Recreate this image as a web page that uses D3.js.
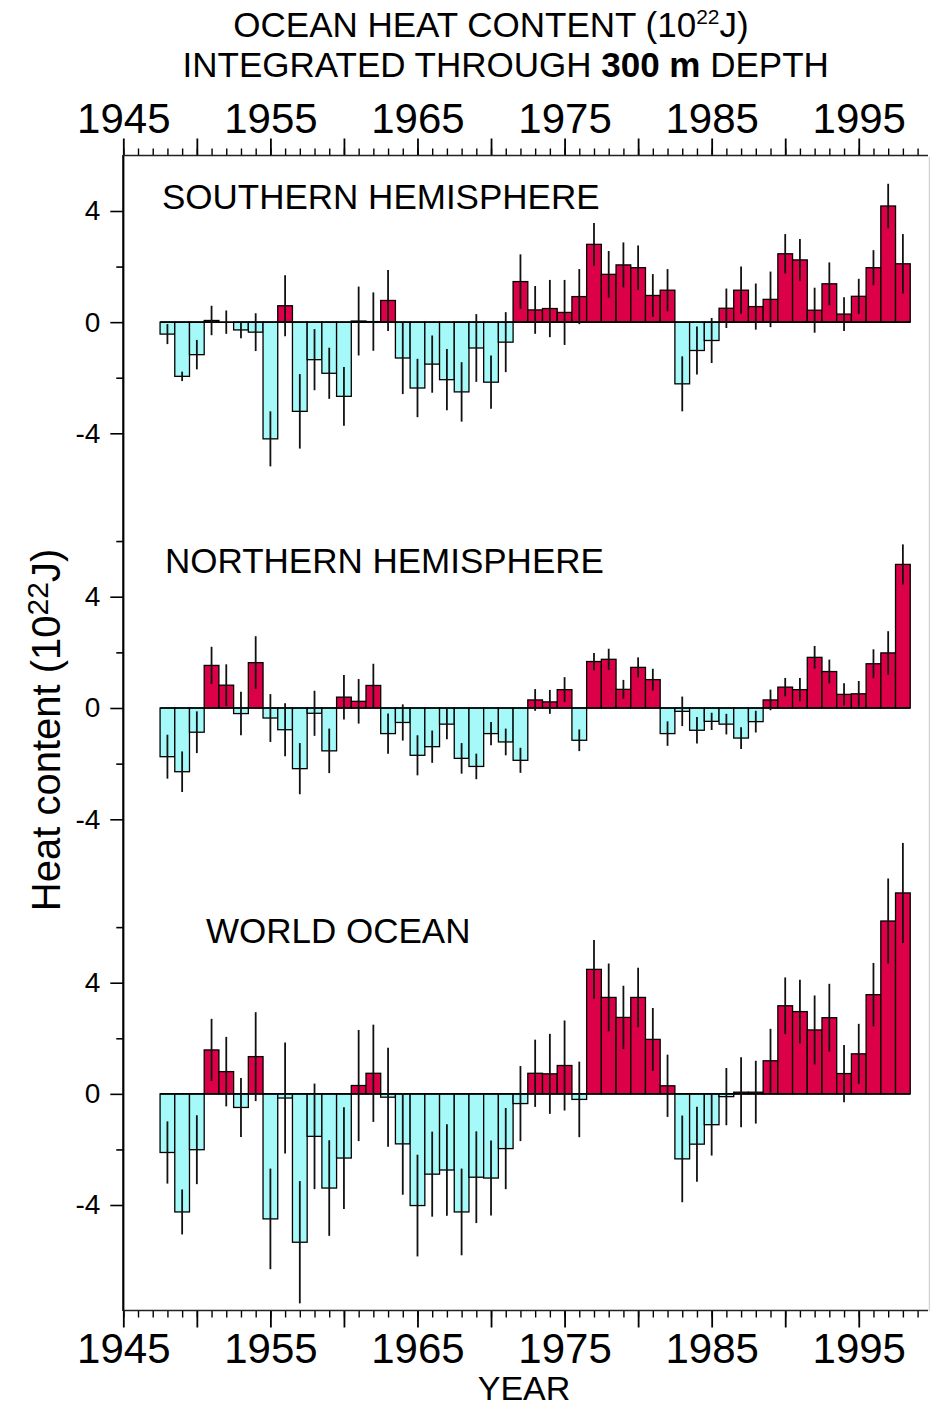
<!DOCTYPE html>
<html><head><meta charset="utf-8">
<script src="https://cdn.jsdelivr.net/npm/d3@7"></script>
<style>
html,body{margin:0;padding:0;background:#fff;}
svg{display:block;font-family:"Liberation Sans",Arial,Helvetica,sans-serif;}
</style></head><body>
<svg id="chart" width="930" height="1409"></svg>
<script>
// ---------- DATA ----------
const years = [1948,1949,1950,1951,1952,1953,1954,1955,1956,1957,1958,1959,1960,1961,1962,1963,1964,1965,1966,1967,1968,1969,1970,1971,1972,1973,1974,1975,1976,1977,1978,1979,1980,1981,1982,1983,1984,1985,1986,1987,1988,1989,1990,1991,1992,1993,1994,1995,1996,1997,1998];

const southValues = [-0.43,-1.95,-1.17,0.06,0.0,-0.28,-0.36,-4.2,0.59,-3.21,-1.35,-1.84,-2.67,0.04,0.02,0.78,-1.29,-2.37,-1.51,-2.07,-2.51,-0.93,-2.16,-0.72,1.46,0.44,0.49,0.35,0.92,2.8,1.72,2.06,1.96,0.96,1.15,-2.22,-1.02,-0.66,0.5,1.15,0.56,0.82,2.46,2.24,0.43,1.38,0.29,0.93,1.96,4.18,2.1];
const southErrors = [0.36,0.17,0.53,0.53,0.42,0.3,0.68,0.99,1.1,1.34,1.1,0.92,1.06,1.24,1.05,1.1,1.3,1.05,1.03,1.1,1.07,1.22,0.96,1.08,0.98,0.86,1.03,1.17,0.99,0.77,0.84,0.81,0.8,0.77,0.76,0.99,0.86,0.81,0.71,0.85,0.83,1.0,0.71,0.75,0.81,0.77,0.61,0.63,0.63,0.8,1.07];

const northValues = [-1.75,-2.29,-0.87,1.53,0.82,-0.2,1.63,-0.36,-0.78,-2.18,-0.19,-1.54,0.39,0.24,0.81,-0.92,-0.52,-1.7,-1.39,-0.58,-1.81,-2.1,-0.92,-1.22,-1.88,0.29,0.22,0.66,-1.16,1.67,1.75,0.67,1.46,1.02,-0.92,-0.12,-0.8,-0.48,-0.58,-1.08,-0.49,0.29,0.75,0.66,1.82,1.31,0.49,0.51,1.59,1.98,5.16];
const northErrors = [0.79,0.73,0.75,0.67,0.75,0.78,0.95,0.86,0.95,0.92,0.81,0.8,0.8,0.8,0.78,0.72,0.65,0.72,0.58,0.54,0.55,0.46,0.42,0.48,0.45,0.39,0.43,0.45,0.39,0.31,0.38,0.34,0.36,0.39,0.44,0.53,0.48,0.31,0.37,0.39,0.39,0.37,0.33,0.42,0.41,0.43,0.4,0.46,0.52,0.78,0.72];

const worldValues = [-2.11,-4.25,-2.01,1.58,0.8,-0.49,1.34,-4.5,-0.15,-5.34,-1.53,-3.39,-2.31,0.3,0.74,-0.12,-1.8,-4.02,-2.89,-2.74,-4.25,-3.0,-3.03,-1.97,-0.35,0.74,0.72,1.02,-0.2,4.48,3.47,2.75,3.47,1.96,0.29,-2.34,-1.81,-1.11,-0.1,0.06,0.06,1.19,3.17,2.96,2.3,2.74,0.73,1.44,3.57,6.22,7.23];
const worldErrors = [1.12,0.81,1.24,1.12,1.25,1.06,1.6,1.81,2.0,2.2,1.9,1.72,1.83,2.0,1.75,1.78,1.83,1.83,1.53,1.65,1.56,1.65,1.35,1.46,1.35,1.21,1.44,1.62,1.36,1.06,1.22,1.14,1.07,1.13,1.12,1.56,1.35,1.11,1.03,1.26,1.13,1.15,1.02,1.15,1.24,1.22,1.03,1.08,1.14,1.53,1.8];

const panelNames = ["SOUTHERN HEMISPHERE", "NORTHERN HEMISPHERE", "WORLD OCEAN"];
const xTickLabels = [1945, 1955, 1965, 1975, 1985, 1995];
const yTickLabels = [-4, 0, 4];

// ---------- LAYOUT ----------
const svg = d3.select("#chart");
const x = d3.scaleLinear().domain([1945, 2000]).range([123.3, 932.3]);
const RED = "#dc0049", CYAN = "#a6f9f9";

const panels = [
  {name: panelNames[0], values: southValues, errors: southErrors,
   y: d3.scaleLinear().domain([-4, 4]).range([433.3, 211]), minor: [-2, 2], lx: 162, ly: 209},
  {name: panelNames[1], values: northValues, errors: northErrors,
   y: d3.scaleLinear().domain([-4, 4]).range([819.3, 596.7]), minor: [-2, 2, 6], lx: 165, ly: 573},
  {name: panelNames[2], values: worldValues, errors: worldErrors,
   y: d3.scaleLinear().domain([-4, 4]).range([1205, 982.7]), minor: [-2, 2, 6], lx: 206, ly: 943}
];

// Title
const t1 = svg.append("text").attr("x", 491).attr("y", 37).attr("text-anchor", "middle")
  .attr("font-size", 35).attr("fill", "#000");
t1.append("tspan").text("OCEAN HEAT CONTENT (10");
t1.append("tspan").attr("font-size", 21).attr("dy", -13).text("22");
t1.append("tspan").attr("dy", 13).text("J)");
const t2 = svg.append("text").attr("x", 505.7).attr("y", 77).attr("text-anchor", "middle")
  .attr("font-size", 35).attr("fill", "#000");
t2.append("tspan").text("INTEGRATED THROUGH ");
t2.append("tspan").attr("font-weight", "bold").text("300 m");
t2.append("tspan").text(" DEPTH");

// Panels
panels.forEach(p => {
  const g = svg.append("g");
  const data = years.map((yr, i) => ({yr, v: p.values[i], e: p.errors[i]}));
  const y0 = p.y(0);
  g.selectAll("rect.bar").data(data).join("rect")
    .attr("class", "bar")
    .attr("x", d => x(d.yr - 0.5))
    .attr("width", d => x(d.yr + 0.5) - x(d.yr - 0.5))
    .attr("y", d => Math.min(p.y(d.v), y0))
    .attr("height", d => Math.abs(p.y(d.v) - y0))
    .attr("fill", d => d.v >= 0 ? RED : CYAN)
    .attr("stroke", "#000").attr("stroke-width", 1.3);
  g.append("line")
    .attr("x1", x(years[0] - 0.5)).attr("x2", x(years[years.length - 1] + 0.5))
    .attr("y1", y0).attr("y2", y0)
    .attr("stroke", "#000").attr("stroke-width", 1.6);
  g.selectAll("line.err").data(data).join("line")
    .attr("class", "err")
    .attr("x1", d => x(d.yr)).attr("x2", d => x(d.yr))
    .attr("y1", d => p.y(d.v - d.e)).attr("y2", d => p.y(d.v + d.e))
    .attr("stroke", "#111").attr("stroke-width", 1.8);

  // label
  svg.append("text").attr("x", p.lx).attr("y", p.ly).attr("font-size", 35)
    .attr("fill", "#000").text(p.name);

  // y axis major ticks + labels
  const ax = svg.append("g").attr("transform", `translate(${x(1945)},0)`)
    .call(d3.axisLeft(p.y).tickValues(yTickLabels).tickSize(13).tickPadding(10)
      .tickFormat(d => String(d)));
  ax.select(".domain").remove();
  ax.selectAll("text").attr("font-size", 28).attr("font-family", "Liberation Sans, Arial, sans-serif").attr("fill", "#000");
  ax.selectAll("line").attr("stroke-width", 1.6);
  const axm = svg.append("g").attr("transform", `translate(${x(1945)},0)`)
    .call(d3.axisLeft(p.y).tickValues(p.minor).tickSize(7).tickFormat(""));
  axm.select(".domain").remove();
  axm.selectAll("line").attr("stroke-width", 1.6);
});

// Left axis line
svg.append("line").attr("x1", x(1945)).attr("x2", x(1945)).attr("y1", 155).attr("y2", 1311)
  .attr("stroke", "#000").attr("stroke-width", 2.2);
// right faint border
svg.append("line").attr("x1", 929.3).attr("x2", 929.3).attr("y1", 157).attr("y2", 1311)
  .attr("stroke", "#c8c8c8").attr("stroke-width", 1);

// X axes (top and bottom)
const yearTicks = d3.range(1945, 2000);
const fiveTicks = d3.range(1945, 2000, 5);
function xAxis(gen, ypos) {
  const gMinor = svg.append("g").attr("transform", `translate(0,${ypos})`)
    .call(gen(x).tickValues(yearTicks).tickSize(7).tickFormat(""));
  gMinor.select(".domain").remove();
  gMinor.selectAll("line").attr("stroke-width", 1.4);
  const gMajor = svg.append("g").attr("transform", `translate(0,${ypos})`)
    .call(gen(x).tickValues(fiveTicks).tickSize(17).tickPadding(6)
      .tickFormat(d => xTickLabels.includes(d) ? String(d) : ""));
  gMajor.select(".domain").remove();
  gMajor.selectAll("line").attr("stroke-width", 1.8);
  gMajor.selectAll("text").attr("font-size", 42).attr("font-family", "Liberation Sans, Arial, sans-serif").attr("fill", "#000");
  svg.append("line").attr("x1", x(1945)).attr("x2", 928).attr("y1", ypos).attr("y2", ypos)
    .attr("stroke", "#222").attr("stroke-width", 1.6);
}
xAxis(d3.axisTop, 155.5);
xAxis(d3.axisBottom, 1310.5);

// Axis titles
svg.append("text").attr("x", 524).attr("y", 1400).attr("text-anchor", "middle")
  .attr("font-size", 34).attr("fill", "#000").text("YEAR");
const yl = svg.append("text").attr("transform", "translate(60,730) rotate(-90)")
  .attr("text-anchor", "middle").attr("font-size", 40).attr("fill", "#000");
yl.append("tspan").text("Heat content (10");
yl.append("tspan").attr("font-size", 30).attr("dy", -12).text("22");
yl.append("tspan").attr("dy", 12).text("J)");
</script>
</body></html>
